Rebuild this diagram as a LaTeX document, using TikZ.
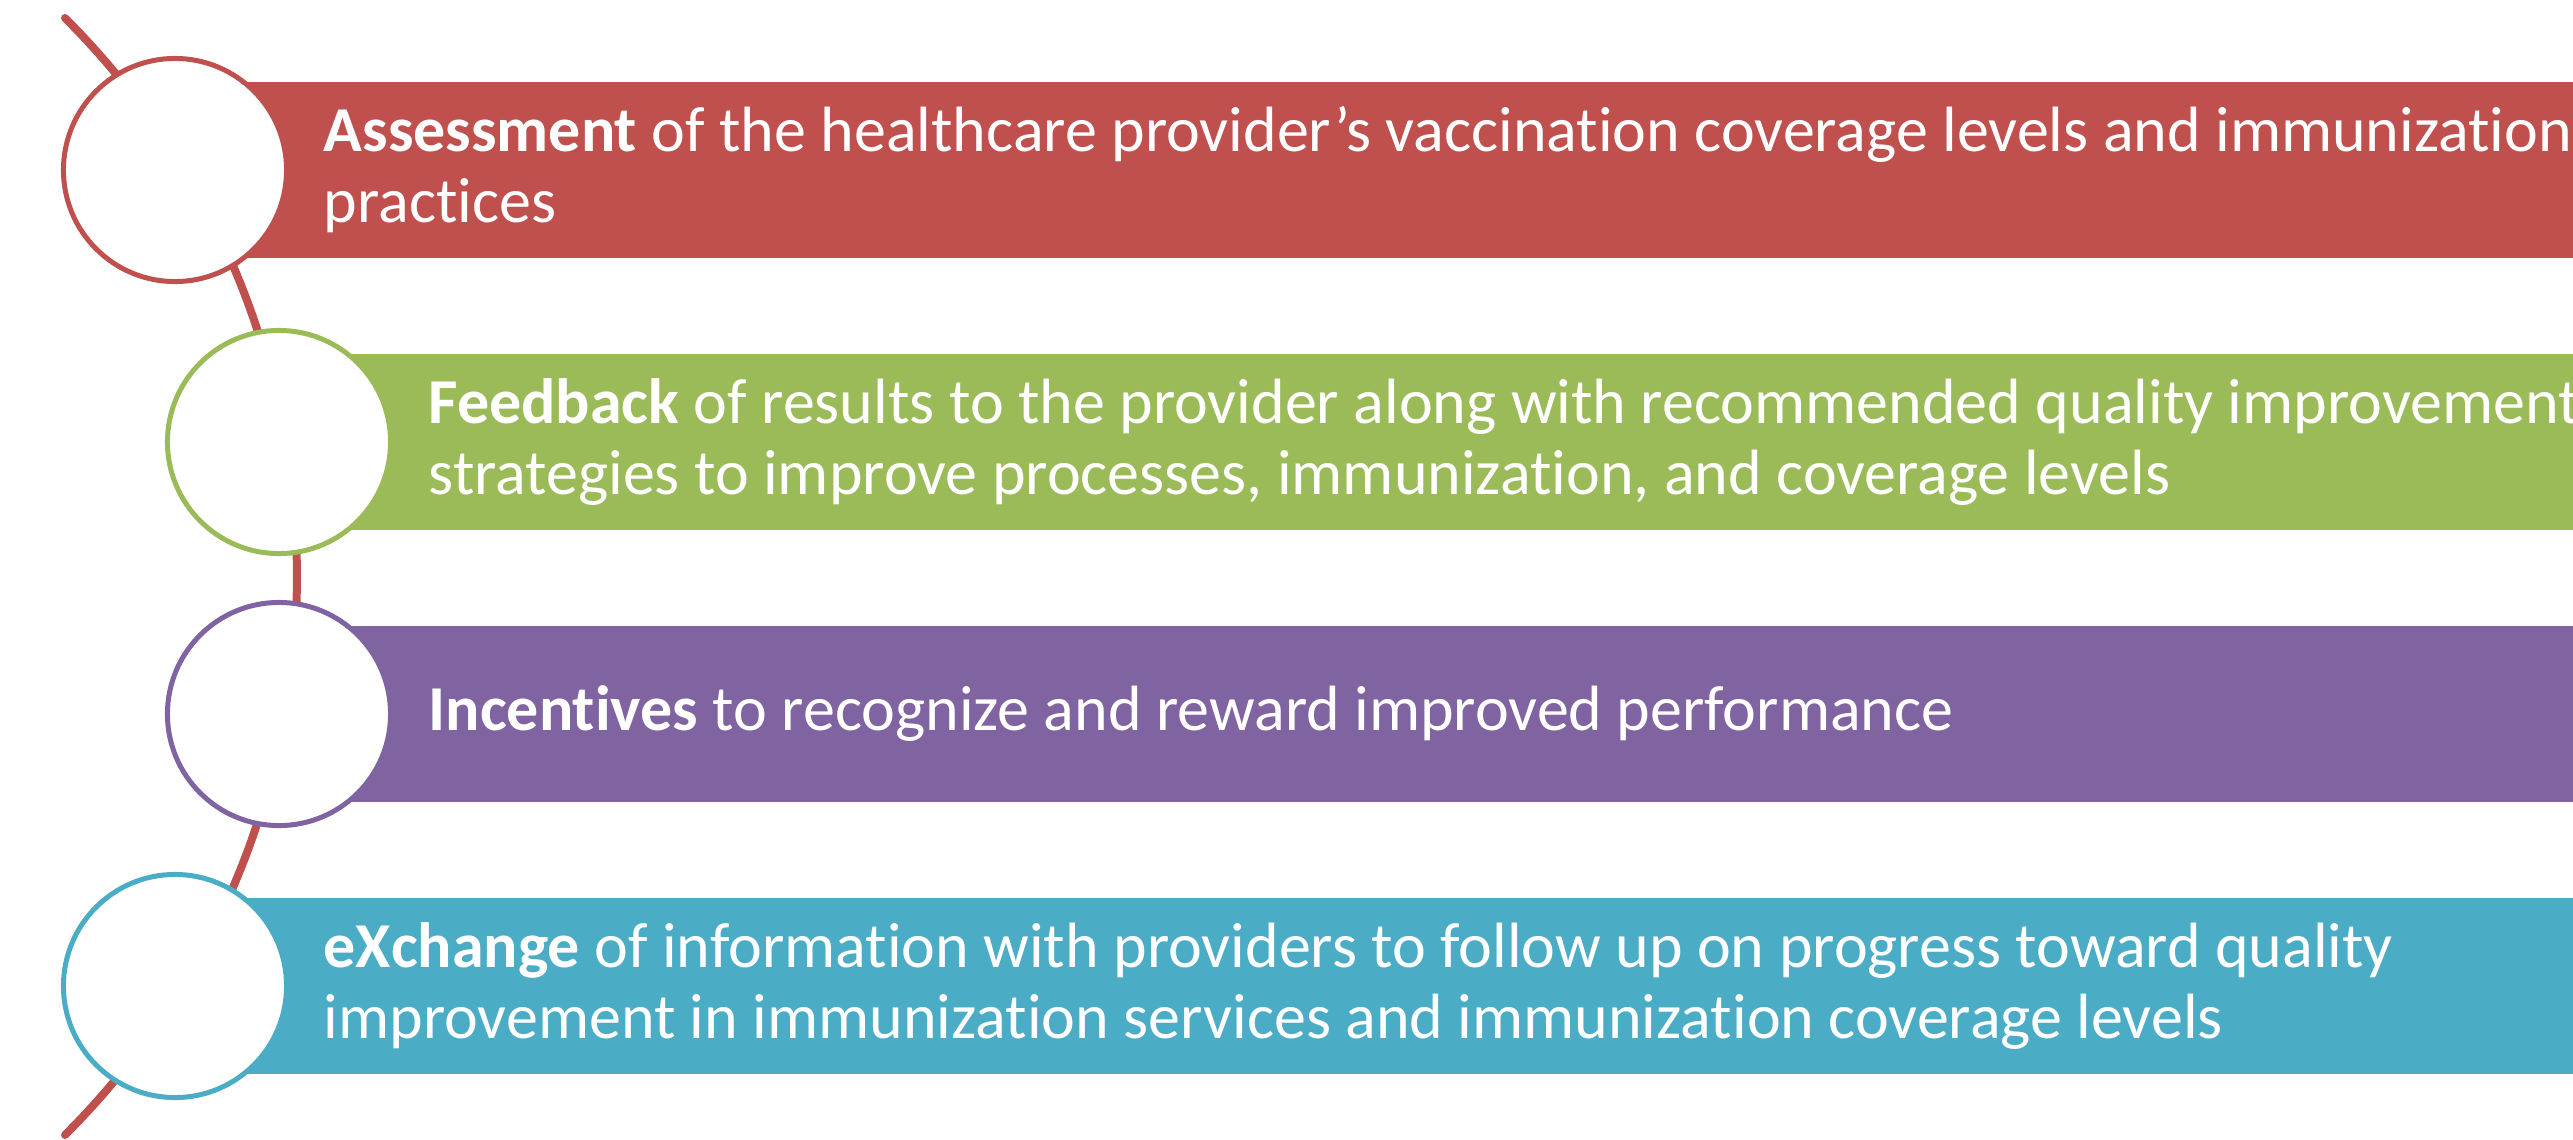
\documentclass[tikz,border=0pt]{standalone}
\usepackage{fontspec}
\setmainfont{Carlito}[Ligatures=NoCommon]
\definecolor{cred}{HTML}{C0504D}
\definecolor{cgreen}{HTML}{9BBB59}
\definecolor{cpurple}{HTML}{8064A2}
\definecolor{cblue}{HTML}{4BACC6}
\begin{document}
\begin{tikzpicture}[x=0.01cm,y=-0.01cm,
  bar/.style={fill=#1, draw=none, anchor=west, minimum height=1.76cm, inner sep=0, outer sep=0},
  ring/.style={circle, draw=#1, fill=white, line width=0.05cm, minimum size=2.23cm, inner sep=0},
  label/.style={anchor=west, align=left, text=white, inner sep=0, font=\fontsize{18.2}{20.2}\selectfont},
  spine/.style={draw=cred, line width=0.08cm, line cap=round}]
\useasboundingbox (0,0) rectangle (2573,1139);
% bars
\node[bar=cred, minimum width=23.98cm] (b1) at (175,170) {};
\node[bar=cgreen, minimum width=22.94cm] (b2) at (279,442) {};
\node[bar=cpurple, minimum width=22.94cm] (b3) at (279,714) {};
\node[bar=cblue, minimum width=23.98cm] (b4) at (175,986) {};
% spine
\coordinate (top) at (65,18);
\draw[spine] (top) arc[start angle=45.1, end angle=-45.1, radius=7.88cm] coordinate (bot);
% circles
\node[ring=cred] (c1) at (175,170) {};
\node[ring=cgreen] (c2) at (279,442) {};
\node[ring=cpurple] (c3) at (279,714) {};
\node[ring=cblue] (c4) at (175,986) {};
% texts
\node[label] (t1) at (323,170) {\textbf{Assessment} of the healthcare provider’s vaccination coverage levels and immunization\\practices};
\node[label] (t2) at (428,442) {\textbf{Feedback} of results to the provider along with recommended quality improvement\\strategies to improve processes, immunization, and coverage levels};
\node[label] (t3) at (428,714) {\textbf{Incentives} to recognize and reward improved performance};
\node[label] (t4) at (323,986) {\textbf{eXchange} of information with providers to follow up on progress toward quality\\improvement in immunization services and immunization coverage levels};
\end{tikzpicture}
\end{document}
